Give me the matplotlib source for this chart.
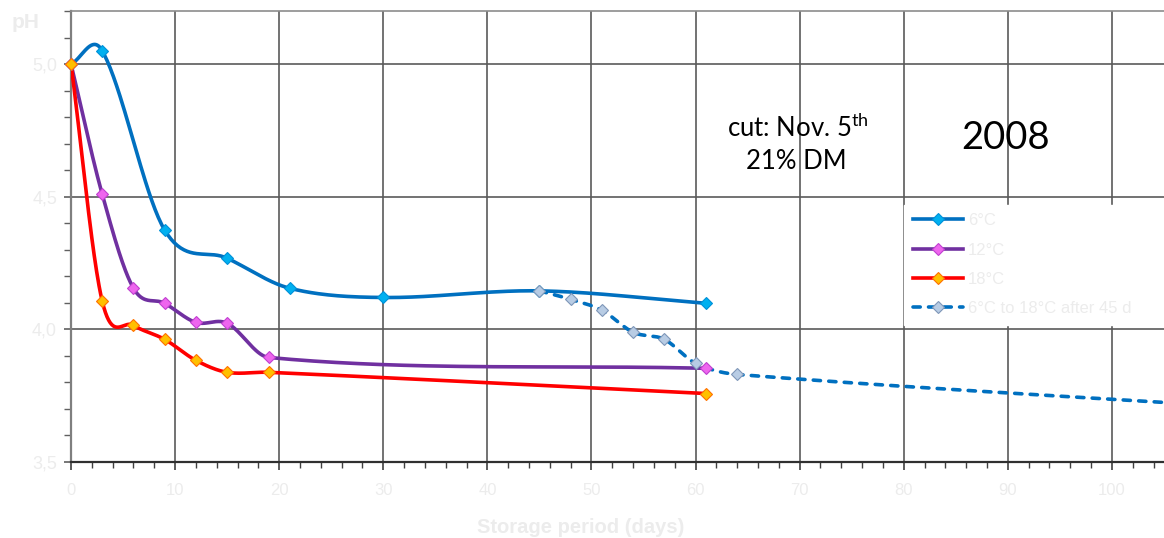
"""
pH during storage, cut Nov. 5th 2008 (21% DM) -- Excel style smoothed lines.
"""

import numpy as np
import matplotlib.pyplot as plt
from matplotlib.ticker import MultipleLocator, FixedLocator

# ----------------------------------------------------------------
# Data
# ----------------------------------------------------------------
days_6 = [0, 3, 9, 15, 21, 30, 45, 61]
ph_6   = [5.00, 5.05, 4.374, 4.268, 4.155, 4.12, 4.145, 4.098]

days_12 = [0, 3, 6, 9, 12, 15, 19, 61]
ph_12   = [5.00, 4.509, 4.155, 4.098, 4.026, 4.023, 3.894, 3.853]

days_18 = [0, 3, 6, 9, 12, 15, 19, 61]
ph_18   = [5.00, 4.106, 4.015, 3.962, 3.883, 3.838, 3.838, 3.758]

# 6 degC moved to 18 degC after 45 d (last point lies beyond the visible range)
days_mix = [45, 48, 51, 54, 57, 60, 64, 120]
ph_mix   = [4.145, 4.113, 4.072, 3.989, 3.962, 3.872, 3.83, 3.688]

labels = ["6°C", "12°C", "18°C", "6°C to 18°C after 45 d"]
ytick_vals   = [3.5, 4.0, 4.5, 5.0]
ytick_labels = ["3,5", "4,0", "4,5", "5,0"]

LIGHT = "#ececec"   # the axis texts are almost white in the original


def smooth(x, y, n=40):
    """Smoothed line through the points (cubic Hermite, cardinal tangents)."""
    x = np.asarray(x, float)
    y = np.asarray(y, float)
    m = np.empty_like(y)
    m[1:-1] = (y[2:] - y[:-2]) / (x[2:] - x[:-2])
    m[0] = (y[1] - y[0]) / (x[1] - x[0])
    m[-1] = (y[-1] - y[-2]) / (x[-1] - x[-2])
    xs, ys = [], []
    for i in range(len(x) - 1):
        h = x[i + 1] - x[i]
        s = np.linspace(0, 1, n)
        h00 = 2 * s**3 - 3 * s**2 + 1
        h10 = s**3 - 2 * s**2 + s
        h01 = -2 * s**3 + 3 * s**2
        h11 = s**3 - s**2
        seg = h00 * y[i] + h10 * h * m[i] + h01 * y[i + 1] + h11 * h * m[i + 1]
        xs.append(x[i] + s * h)
        ys.append(seg)
    return np.concatenate(xs), np.concatenate(ys)


plt.rcParams["font.family"] = ["Liberation Sans", "DejaVu Sans"]
plt.rcParams["mathtext.fontset"] = "custom"
plt.rcParams["mathtext.rm"] = "Lato"

fig = plt.figure(figsize=(11.64, 5.38), dpi=100)
ax = fig.add_axes([0.061, 0.1413, 0.939, 0.8383])

series = [
    (days_6, ph_6, "#0070C0", "-", "#00B0F0", "#0090D8"),
    (days_12, ph_12, "#7030A0", "-", "#EE66EE", "#C040D0"),
    (days_18, ph_18, "#FF0000", "-", "#FFC000", "#FF7000"),
    (days_mix, ph_mix, "#0070C0", (0, (2.0, 2.3)), "#B8CCE4", "#7F96B8"),
]

handles = []
for (x, y, col, ls, mfc, mec), lab in zip(series, labels):
    sx, sy = smooth(x, y)
    ax.plot(sx, sy, color=col, lw=2.6, ls=ls, dash_capstyle="round",
            solid_capstyle="round", zorder=3)
    vis = [(a, b) for a, b in zip(x, y) if a <= 105]
    ax.plot([v[0] for v in vis], [v[1] for v in vis], ls="none", marker="D",
            ms=6.5, mfc=mfc, mec=mec, mew=0.8, zorder=4, clip_on=False)
    # legend proxy
    h, = ax.plot([], [], color=col, lw=2.6, ls=ls, marker="D", ms=6.5,
                 mfc=mfc, mec=mec, mew=0.8, dash_capstyle="round")
    handles.append(h)

# ── Axes ─────────────────────────────────────────────────
ax.set_xlim(0, 105)
ax.set_ylim(3.5, 5.2)
ax.xaxis.set_major_locator(MultipleLocator(10))
ax.xaxis.set_minor_locator(MultipleLocator(2))
ax.yaxis.set_major_locator(FixedLocator(ytick_vals))
ax.set_yticklabels(ytick_labels)
ax.yaxis.set_minor_locator(MultipleLocator(0.1))

ax.grid(True, which="major", color="#5a5a5a", lw=1.2, zorder=1)
ax.set_axisbelow(True)

ax.tick_params(axis="x", which="major", direction="out", length=6, width=1.2,
               color="#404040", labelsize=12, labelcolor=LIGHT, pad=9)
ax.tick_params(axis="x", which="minor", direction="out", length=4, width=1.0,
               color="#404040")
ax.tick_params(axis="y", which="major", direction="out", length=5, width=1.2,
               color="#606060", labelsize=13, labelcolor=LIGHT, pad=5)
ax.tick_params(axis="y", which="minor", direction="out", length=5, width=1.0,
               color="#606060")

ax.spines["right"].set_visible(False)
ax.spines["left"].set_color("#7f7f7f")
ax.spines["left"].set_linewidth(1.6)
ax.spines["bottom"].set_color("#303030")
ax.spines["bottom"].set_linewidth(1.6)
ax.spines["top"].set_color("#8c8c8c")
ax.spines["top"].set_linewidth(1.2)

# ── Labels / annotations ─────────────────────────────────
fig.text(0.022, 0.958, "pH", fontsize=15, fontweight="bold", color=LIGHT,
         ha="center", va="center")
fig.text(0.499, 0.019, "Storage period (days)", fontsize=14.5,
         fontweight="bold", color=LIGHT, ha="center", va="center")

fig.text(0.685, 0.762, r"cut: Nov. 5$^{\mathrm{th}}$", fontsize=18.5,
         family="Lato", ha="center", va="center", color="black")
fig.text(0.684, 0.699, "21% DM", fontsize=18.5,
         family="Lato", ha="center", va="center", color="black")
fig.text(0.864, 0.743, "2008", fontsize=27.5,
         family="Lato", ha="center", va="center", color="black")

leg = ax.legend(handles, labels, loc="upper left",
                bbox_to_anchor=(0.777, 0.619), bbox_transform=fig.transFigure,
                fontsize=12, frameon=True, fancybox=False, framealpha=1,
                edgecolor="white", facecolor="white", handlelength=3.0,
                handletextpad=0.3, labelspacing=0.86, borderpad=0.5,
                borderaxespad=0)
for t in leg.get_texts():
    t.set_color(LIGHT)
leg.set_zorder(5)

fig.savefig("out.png", dpi=100, facecolor="white")
